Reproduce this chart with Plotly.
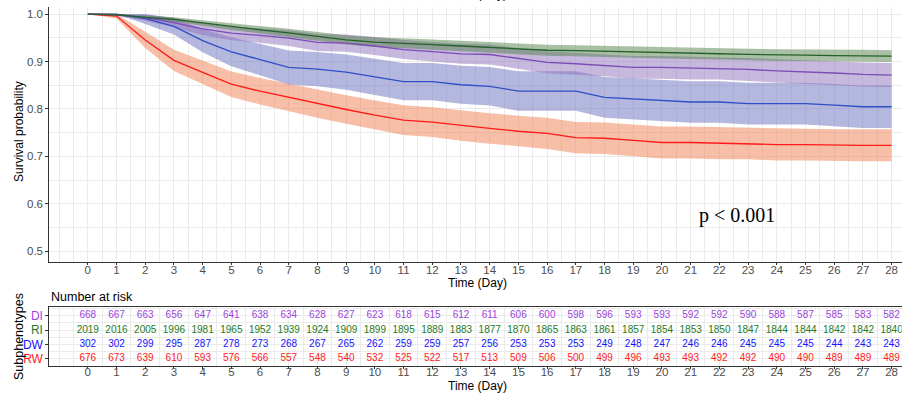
import plotly.graph_objects as go

days = list(range(0, 29))
groups = ["DI", "RI", "DW", "RW"]

# Survival probability read at each day
surv_DI = [1.000, .9985, .9925, .9820, .9686, .9596, .9551, .9491, .9401, .9386, .9326, .9251, .9207, .9162, .9147,
           .9072, .8982, .8952, .8922, .8877, .8877, .8862, .8862, .8832, .8802, .8787, .8757, .8728, .8713]
surv_RI = [1.000, .9985, .9931, .9886, .9812, .9733, .9668, .9604, .9529, .9455, .9406, .9386, .9356, .9326, .9297,
           .9262, .9237, .9227, .9217, .9198, .9183, .9178, .9163, .9148, .9133, .9133, .9123, .9123, .9113]
surv_DW = [1.000, 1.000, .9901, .9740, .9440, .9205, .9040, .8874, .8841, .8775, .8675, .8576, .8576, .8510, .8477,
           .8377, .8377, .8377, .8245, .8212, .8179, .8146, .8146, .8113, .8113, .8113, .8079, .8046, .8046]
surv_RW = [1.000, .9956, .9453, .9024, .8772, .8521, .8373, .8240, .8107, .7988, .7870, .7766, .7722, .7648, .7589,
           .7530, .7485, .7396, .7382, .7337, .7293, .7293, .7278, .7278, .7249, .7249, .7234, .7234, .7234]

# Confidence band limits read at each day
low_DI = [1.000, .9956, .9860, .9719, .9554, .9447, .9394, .9324, .9221, .9204, .9136, .9051, .9002, .8952, .8935,
          .8852, .8753, .8720, .8687, .8638, .8638, .8621, .8621, .8588, .8556, .8539, .8507, .8475, .8459]
up_DI = [1.000, 1.000, .9990, .9921, .9818, .9745, .9708, .9658, .9581, .9568, .9516, .9451, .9412, .9372, .9359,
         .9292, .9211, .9184, .9157, .9116, .9116, .9103, .9103, .9076, .9048, .9035, .9007, .8981, .8967]
low_RI = [1.000, .9968, .9895, .9840, .9753, .9663, .9590, .9519, .9437, .9356, .9303, .9281, .9249, .9217, .9185,
          .9148, .9121, .9110, .9100, .9080, .9064, .9058, .9042, .9026, .9010, .9010, .9000, .9000, .8989]
up_RI = [1.000, 1.000, .9967, .9932, .9871, .9803, .9746, .9689, .9621, .9554, .9509, .9491, .9463, .9435, .9409,
         .9376, .9353, .9344, .9334, .9316, .9302, .9298, .9284, .9270, .9256, .9256, .9246, .9246, .9237]
low_DW = [1.000, 1.000, .9789, .9570, .9195, .8900, .8708, .8517, .8480, .8405, .8293, .8182, .8182, .8108, .8072,
          .7961, .7961, .7961, .7816, .7780, .7744, .7708, .7708, .7672, .7672, .7672, .7635, .7599, .7599]
up_DW = [1.000, 1.000, 1.000, .9910, .9685, .9510, .9372, .9231, .9202, .9145, .9057, .8970, .8970, .8912, .8882,
         .8793, .8793, .8793, .8674, .8644, .8614, .8584, .8584, .8554, .8554, .8554, .8523, .8493, .8493]
low_RW = [1.000, .9906, .9282, .8800, .8525, .8253, .8095, .7953, .7812, .7686, .7561, .7452, .7406, .7328, .7267,
          .7205, .7158, .7065, .7051, .7004, .6958, .6958, .6942, .6942, .6912, .6912, .6897, .6897, .6897]
up_RW = [1.000, 1.000, .9624, .9248, .9019, .8789, .8651, .8527, .8402, .8290, .8179, .8080, .8038, .7968, .7911,
         .7855, .7812, .7727, .7713, .7670, .7628, .7628, .7614, .7614, .7586, .7586, .7571, .7571, .7571]

# Number at risk
risk_DI = [668, 667, 663, 656, 647, 641, 638, 634, 628, 627, 623, 618, 615, 612, 611, 606, 600, 598, 596, 593, 593,
           592, 592, 590, 588, 587, 585, 583, 582]
risk_RI = [2019, 2016, 2005, 1996, 1981, 1965, 1952, 1939, 1924, 1909, 1899, 1895, 1889, 1883, 1877, 1870, 1865, 1863,
           1861, 1857, 1854, 1853, 1850, 1847, 1844, 1844, 1842, 1842, 1840]
risk_DW = [302, 302, 299, 295, 287, 278, 273, 268, 267, 265, 262, 259, 259, 257, 256, 253, 253, 253, 249, 248, 247,
           246, 246, 245, 245, 245, 244, 243, 243]
risk_RW = [676, 673, 639, 610, 593, 576, 566, 557, 548, 540, 532, 525, 522, 517, 513, 509, 506, 500, 499, 496, 493,
           493, 492, 492, 490, 490, 489, 489, 489]

line_col = {"DI": "#7B4BB8", "RI": "#24602A", "DW": "#2F4FC6", "RW": "#FF1A1A"}
band_col = {"DI": "rgba(143,113,187,0.5)", "RI": "rgba(83,129,75,0.5)",
            "DW": "rgba(106,111,190,0.5)", "RW": "rgba(240,128,80,0.5)"}
text_col = {"DI": "#9B44DD", "RI": "#1F7A1F", "DW": "#1414FF", "RW": "#FF1A1A"}

surv = {"DI": surv_DI, "RI": surv_RI, "DW": surv_DW, "RW": surv_RW}
low = {"DI": low_DI, "RI": low_RI, "DW": low_DW, "RW": low_RW}
up = {"DI": up_DI, "RI": up_RI, "DW": up_DW, "RW": up_RW}
risk = {"DI": risk_DI, "RI": risk_RI, "DW": risk_DW, "RW": risk_RW}
row_pos = {"DI": 4, "RI": 3, "DW": 2, "RW": 1}

fig = go.Figure()
for g in ["RW", "DW", "DI", "RI"]:
    fig.add_trace(go.Scatter(x=days, y=up[g], mode="lines", line=dict(width=0),
                             showlegend=False, hoverinfo="skip", xaxis="x", yaxis="y"))
    fig.add_trace(go.Scatter(x=days, y=low[g], mode="lines", line=dict(width=0), fill="tonexty",
                             fillcolor=band_col[g], showlegend=False, hoverinfo="skip", xaxis="x", yaxis="y"))
for g in ["RW", "DW", "DI", "RI"]:
    fig.add_trace(go.Scatter(x=days, y=surv[g], mode="lines", line=dict(color=line_col[g], width=1.3),
                             name=g, showlegend=False, xaxis="x", yaxis="y"))

for g in groups:
    fig.add_trace(go.Scatter(x=days, y=[row_pos[g]] * len(days), mode="text",
                             text=[str(v) for v in risk[g]],
                             textfont=dict(color=text_col[g], size=10, family="Liberation Sans, Arial"),
                             showlegend=False, xaxis="x2", yaxis="y2"))

font = "Liberation Sans, Arial, sans-serif"
grid = "#EBEBEB"
xr = [-1.34, 28.35]
common_x = dict(range=xr, tickmode="array", tickvals=days, ticktext=[str(d) for d in days],
                showgrid=True, gridcolor=grid, gridwidth=1, zeroline=False, automargin=False,
                minor=dict(tickmode="linear", tick0=0, dtick=0.5, showgrid=True, gridcolor=grid, gridwidth=1),
                ticks="outside", ticklen=2, tickcolor="#333333",
                tickfont=dict(size=11.5, color="#4D4D4D", family=font),
                showline=True, linecolor="#333333", linewidth=1)

title_font = dict(size=12, color="black", family=font)

fig.update_layout(
    width=902, height=394,
    margin=dict(l=0, r=0, t=0, b=0),
    paper_bgcolor="white", plot_bgcolor="white",
    font=dict(family=font, color="black"),
    xaxis=dict(domain=[0.0547, 0.9996], anchor="y", ticklabelstandoff=-5, **common_x),
    yaxis=dict(domain=[0.335, 0.9822], anchor="x", range=[0.4774, 1.0148], automargin=False,
               tickmode="array", tickvals=[0.5, 0.6, 0.7, 0.8, 0.9, 1.0],
               ticktext=["0.5", "0.6", "0.7", "0.8", "0.9", "1.0"],
               showgrid=True, gridcolor=grid, zeroline=False,
               minor=dict(tickmode="linear", tick0=0.5, dtick=0.05, showgrid=True, gridcolor=grid),
               ticks="outside", ticklen=3, tickcolor="#333333",
               tickfont=dict(size=11.5, color="#4D4D4D", family=font),
               showline=True, linecolor="#333333", linewidth=1, mirror=True),
    xaxis2=dict(domain=[0.0547, 0.9996], anchor="y2", mirror=True, ticklabelstandoff=-7, **common_x),
    yaxis2=dict(domain=[0.0711, 0.2216], anchor="x2", range=[0.49, 4.63], automargin=False,
                tickmode="array", tickvals=[row_pos[g] for g in groups],
                ticktext=['<span style="color:%s">%s</span>' % (text_col[g], g) for g in groups],
                tickfont=dict(size=12, family=font),
                showgrid=True, gridcolor=grid, zeroline=False,
                minor=dict(tickmode="linear", tick0=0.5, dtick=0.5, showgrid=True, gridcolor=grid),
                ticks="outside", ticklen=3, tickcolor="#333333",
                showline=True, linecolor="#333333", linewidth=1, mirror=True),
    annotations=[
        dict(text="p < 0.001", x=22.6, y=0.575, xref="x", yref="y", showarrow=False,
             font=dict(family="Liberation Serif, Times New Roman, serif", size=20, color="black")),
        dict(text="Number at risk", x=0.0547, y=1 - 297 / 394, xref="paper", yref="paper",
             xanchor="left", yanchor="middle", showarrow=False, font=dict(size=12.5, color="black")),
        dict(text="Time (Day)", x=477 / 902, y=1 + 6 / 394, xref="paper", yref="paper",
             xanchor="center", yanchor="middle", showarrow=False, font=title_font),
        dict(text="Time (Day)", x=477 / 902, y=1 - 283 / 394, xref="paper", yref="paper",
             xanchor="center", yanchor="middle", showarrow=False, font=title_font),
        dict(text="Time (Day)", x=477 / 902, y=1 - 386 / 394, xref="paper", yref="paper",
             xanchor="center", yanchor="middle", showarrow=False, font=title_font),
        dict(text="Survival probability", x=19 / 902, y=1 - 132 / 394, xref="paper", yref="paper",
             xanchor="center", yanchor="middle", textangle=-90, showarrow=False, font=title_font),
        dict(text="Subphenotypes", x=19 / 902, y=1 - 337 / 394, xref="paper", yref="paper",
             xanchor="center", yanchor="middle", textangle=-90, showarrow=False,
             font=dict(size=12.5, color="black", family=font)),
    ],
)

fig.write_html("out.html")
